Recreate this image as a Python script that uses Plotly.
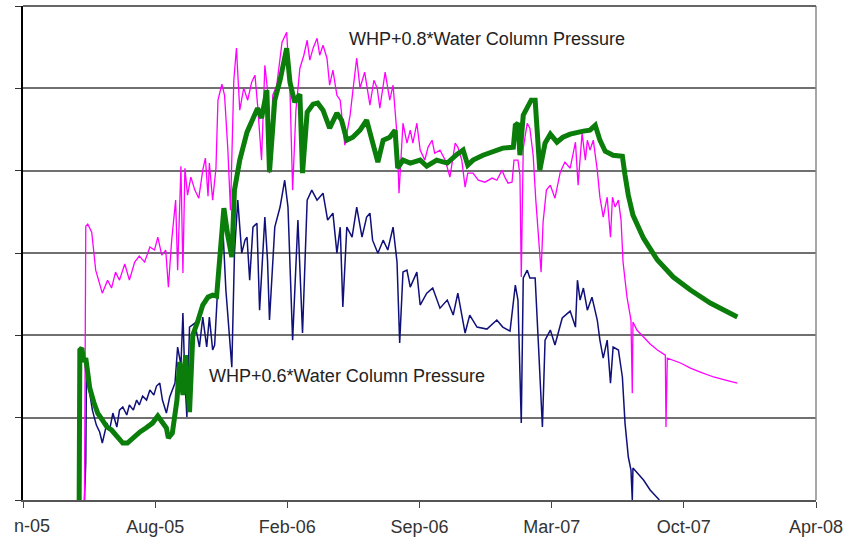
import pandas as pd
import plotly.graph_objects as go

START = pd.Timestamp("2005-01-15")   # left end of the date axis
STEP_DAYS = 200                       # spacing of the date ticks
N_TICKS = 7
# the source image is cropped on the left, so only "n-05" of the first label is visible
first_label = "n-05"
tick_labels = ["", "Aug-05", "Feb-06", "Sep-06", "Mar-07", "Oct-07", "Apr-08"]
y_ticks = [0, 500, 1000, 1500, 2000, 2500, 3000]

# ---- WHP + 0.8 * Water Column Pressure (magenta): days since START, pressure ----
mag_days = [93, 95, 98, 104, 110, 116, 120, 128, 134, 140,
            146, 154, 161, 169, 176, 184, 192, 199, 204, 210,
            216, 220, 225, 231, 234, 239, 242, 245, 249, 254,
            260, 266, 272, 276, 280, 282, 287, 292, 295, 301,
            305, 310, 314, 319, 323, 328, 334, 340, 346, 351,
            355, 361, 366, 370, 373, 378, 384, 392, 399, 404,
            408, 413, 419, 425, 430, 434, 439, 445, 449, 454,
            460, 464, 469, 475, 480, 487, 495, 501, 505, 510,
            517, 525, 531, 536, 540, 548, 555, 560, 566,
            569, 575, 581, 586, 590, 596, 601, 608, 613, 619,
            623, 631, 639, 646, 654, 658, 664, 669, 673, 681,
            689, 699, 710, 717, 725, 729, 734, 740, 743, 749, 752,
            754, 757, 763, 767, 772, 776, 780, 784,
            787, 792, 798, 805, 813, 820, 828, 836, 840, 846,
            851, 854, 858, 863, 869, 873, 878, 884, 889, 892,
            896, 901, 905, 908, 914, 919, 920, 922, 923,
            929, 939, 949, 960, 972, 973, 975, 995, 1010, 1025, 1045, 1063, 1081]
mag_vals = [0, 1663, 1675, 1627, 1396, 1305, 1256, 1335, 1287, 1384,
            1335, 1433, 1335, 1445, 1481, 1445, 1536, 1518, 1596, 1487,
            1518, 1293, 1578, 1821, 1396, 2027, 1378, 2015, 1851, 1961,
            1882, 1833, 2003, 2076, 1845, 2046, 1821, 2015, 2428, 2525,
            2458, 2125, 1760, 2549, 2744, 2367, 2501, 2428, 2537, 2580,
            2398, 2064, 2640, 2489, 1985, 2458, 2519, 2780, 2841, 2489,
            1882, 2367, 2622, 2701, 2792, 2671, 2744, 2804, 2701, 2762,
            2683, 2519, 2610, 2458, 2428, 2155, 2337, 2549, 2683, 2501,
            2598, 2398, 2549, 2501, 2379, 2598, 2428, 2519, 2216,
            1863, 2288, 2167, 2246, 2167, 2288, 2125, 2064, 2143, 2185,
            2106, 2125, 2064, 1961, 2167, 2143, 2064, 1900, 1985, 1985,
            1942, 1930, 1955, 1942, 2003, 1961, 1924, 1930, 2064, 2064, 1973,
            1354, 2137, 2288, 2258, 2094, 1821, 1578, 1384,
            1687, 1882, 1912, 1833, 1991, 2052, 2015, 2173, 1912, 2228,
            2064, 2185, 2125, 2185, 2003, 1839, 1718, 1839, 1596, 1839,
            1779, 1821, 1700, 1445, 1232, 1111, 1093, 649, 1080,
            1032, 989, 947, 911, 880, 443, 862, 832, 801, 777, 747, 728, 710]

# ---- green thick curve ----
grn_days = [85, 86, 89, 92, 95, 98, 101, 107, 113, 120,
            127, 134, 142, 151, 158, 166, 177, 186, 196, 204,
            211, 217, 220, 226, 233, 237, 242, 246, 252, 257,
            264, 272, 280, 287, 293, 298, 304, 310, 316, 320,
            328, 339, 348, 355, 361, 369, 373, 381, 389, 395,
            399, 404, 411, 419, 423, 430, 439, 446, 454, 464,
            475, 482, 490, 499, 510, 520, 528, 537, 545, 555,
            563, 567, 575, 586, 601, 611, 626, 642, 657, 666,
            673, 681, 696, 711, 726, 742, 745, 749, 752, 757,
            764, 769, 775, 782, 790, 798, 808, 817, 828, 839,
            848, 858, 866, 873, 881, 893, 907, 911, 916, 923,
            939, 960, 984, 1010, 1040, 1081]
grn_vals = [0, 911, 923, 838, 862, 759, 680, 595, 528, 486,
            443, 425, 388, 346, 346, 376, 413, 437, 467, 510,
            473, 437, 376, 407, 607, 838, 637, 880, 534, 1002,
            1080, 1184, 1232, 1244, 1238, 1505, 1772, 1602, 1475, 1882,
            2064, 2234, 2325, 2379, 2319, 2489, 1991, 2428, 2549, 2671,
            2744, 2537, 2416, 2464, 1985, 2355, 2404, 2410, 2367, 2258,
            2349, 2307, 2185, 2203, 2246, 2307, 2185, 2052, 2185, 2203,
            2246, 2015, 2064, 2046, 2064, 2027, 2064, 2046, 2100, 2125,
            2033, 2064, 2094, 2118, 2137, 2143, 2276, 2288, 2094, 2337,
            2398, 2428, 2428, 2003, 2167, 2222, 2173, 2203, 2222, 2234,
            2240, 2246, 2276, 2185, 2118, 2094, 2088, 1973, 1851, 1730,
            1590, 1457, 1354, 1275, 1196, 1111]

# ---- WHP + 0.6 * Water Column Pressure (navy) ----
nav_days = [93, 95, 96, 99, 105, 111, 116, 120, 127, 131,
            136, 142, 146, 151, 157, 161, 167, 172, 176, 181,
            187, 192, 198, 202, 207, 211, 217, 222, 230, 234,
            239, 242, 245, 248, 252, 260, 267, 272, 278, 282,
            287, 290, 295, 299, 302, 307, 310, 316, 320, 325,
            331, 336, 339, 343, 348, 354, 358, 366, 370, 373,
            381, 389, 396, 401, 408, 416, 423, 430, 437, 445,
            454, 461, 469, 475, 480, 484, 490, 498, 505, 513,
            520, 525, 529, 537, 545, 552, 560, 566, 570, 575,
            581, 586, 596, 601, 611, 620, 631, 642, 651, 658,
            669, 676, 687, 702, 717, 726, 737, 745, 749, 754,
            757, 763, 767, 775, 780, 786, 790, 798, 805, 816,
            828, 836, 839, 843, 848, 854, 861, 869, 873, 878,
            884, 889, 893, 901, 907, 911, 916, 920, 922, 923,
            939, 949, 963]
nav_vals = [0, 231, 759, 698, 546, 455, 413, 346, 467, 425,
            528, 443, 546, 565, 516, 577, 546, 607, 577, 631,
            607, 668, 637, 692, 710, 607, 528, 625, 710, 929,
            819, 1135, 728, 504, 1050, 1074, 929, 1111, 929, 1111,
            911, 941, 1317, 1518, 1687, 1275, 1135, 807, 1499, 1821,
            1499, 1578, 1596, 1335, 1657, 1681, 1153, 1718, 1457, 1093,
            1657, 1779, 1942, 1779, 971, 1700, 1014, 1821, 1882, 1821,
            1863, 1700, 1742, 1499, 1657, 1172, 1657, 1596, 1779, 1596,
            1718, 1742, 1578, 1499, 1578, 1518, 1657, 1445, 953, 1384,
            1396, 1293, 1384, 1184, 1256, 1287, 1165, 1214, 1123, 1256,
            1014, 1123, 1050, 1038, 1093, 1050, 1026, 1305, 1214, 467,
            1348, 1396, 1348, 1348, 941, 443, 971, 1032, 941, 1105,
            1147, 1050, 1335, 1214, 1287, 1153, 1232, 1093, 971, 862,
            971, 710, 929, 911, 747, 467, 261, 182, 0, 194,
            121, 61, 0]

label_08 = "WHP+0.8*Water Column Pressure"
label_06 = "WHP+0.6*Water Column Pressure"
label_08_pos = (490, 2798)   # (days since START, pressure)
label_06_pos = (278, 753)


def to_dates(days):
    return START + pd.to_timedelta(days, unit="D")


tick_dates = [START + pd.Timedelta(days=STEP_DAYS * k) for k in range(N_TICKS)]
x_end = tick_dates[-1]

FONT = "Liberation Sans, Arial, sans-serif"

fig = go.Figure()
fig.add_trace(go.Scatter(x=to_dates(nav_days), y=nav_vals, mode="lines",
                         line=dict(color="#10107a", width=1.5), name="WHP+0.6"))
fig.add_trace(go.Scatter(x=to_dates(mag_days), y=mag_vals, mode="lines",
                         line=dict(color="#ff00ff", width=1.3), name="WHP+0.8"))
fig.add_trace(go.Scatter(x=to_dates(grn_days), y=grn_vals, mode="lines",
                         line=dict(color="#0a7d0a", width=5), name="WHP"))

fig.add_annotation(x=to_dates([label_08_pos[0]])[0], y=label_08_pos[1], text=label_08,
                   showarrow=False, xanchor="left", yanchor="middle",
                   font=dict(family=FONT, size=18, color="#222222"))
fig.add_annotation(x=to_dates([label_06_pos[0]])[0], y=label_06_pos[1], text=label_06,
                   showarrow=False, xanchor="left", yanchor="middle",
                   font=dict(family=FONT, size=18, color="#222222"))
# visible remainder of the first (cropped) date label
fig.add_annotation(xref="paper", yref="paper", x=0.0366, y=-0.0526, text=first_label,
                   showarrow=False, xanchor="right", yanchor="middle",
                   font=dict(family=FONT, size=18, color="#333333"))

fig.update_layout(
    width=856, height=538,
    margin=dict(l=23, r=40, t=6, b=38, autoexpand=False),
    paper_bgcolor="white", plot_bgcolor="white",
    showlegend=False,
    shapes=[
        dict(type="line", xref="paper", yref="paper", x0=1, x1=1, y0=0, y1=1,
             line=dict(color="#8a8a8a", width=1.5)),
        dict(type="line", xref="paper", yref="paper", x0=0, x1=1, y0=1, y1=1,
             line=dict(color="#666666", width=2)),
    ],
)
fig.update_xaxes(
    type="date", range=[START, x_end], automargin=False,
    tickmode="array", tickvals=tick_dates, ticktext=tick_labels,
    ticks="outside", ticklen=6, tickcolor="#444444", tickwidth=1.2,
    ticklabeloverflow="allow", ticklabelstandoff=4,
    showline=True, linecolor="#555555", linewidth=1.5,
    showgrid=False, zeroline=False,
    tickfont=dict(family=FONT, size=18, color="#333333"),
)
fig.update_yaxes(
    range=[0, 3000], tickmode="array", tickvals=y_ticks, automargin=False,
    showticklabels=False, ticks="outside", ticklen=6, tickcolor="#333333",
    showgrid=True, gridcolor="#707070", gridwidth=1.5,
    showline=True, linecolor="#000000", linewidth=1.5, zeroline=False,
)

fig.write_html("out.html")
